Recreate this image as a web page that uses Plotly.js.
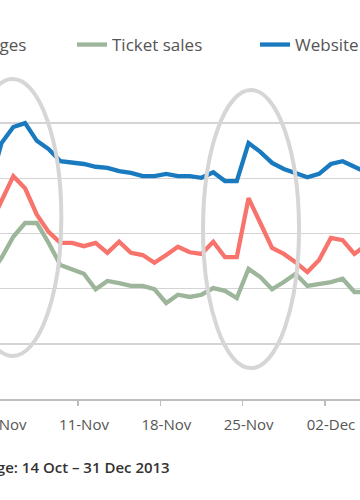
<!DOCTYPE html>
<html>
<head>
<meta charset="utf-8">
<script src="https://cdn.plot.ly/plotly-3.0.1.min.js"></script>
<style>
html,body{margin:0;padding:0;background:#fff;overflow:hidden;width:360px;height:500px;}
#chart{position:absolute;left:-270px;top:0;width:900px;height:500px;}
</style>
</head>
<body>
<div id="chart"></div>
<script>
// Daily values, 03 Nov – 05 Dec 2013 (the part of the chart that is in view)
const dates = ['2013-11-03','2013-11-04','2013-11-05','2013-11-06','2013-11-07','2013-11-08','2013-11-09','2013-11-10',
  '2013-11-11','2013-11-12','2013-11-13','2013-11-14','2013-11-15','2013-11-16','2013-11-17',
  '2013-11-18','2013-11-19','2013-11-20','2013-11-21','2013-11-22','2013-11-23','2013-11-24',
  '2013-11-25','2013-11-26','2013-11-27','2013-11-28','2013-11-29','2013-11-30','2013-12-01',
  '2013-12-02','2013-12-03','2013-12-04','2013-12-05'];
const ticketPages = [315,361,404,382,334,303,283,283,277,283,265,285,265,261,247,261,276,266,263,285,257,257,364,319,274,263,248,230,252,292,288,263,279];
const ticketSales = [225,256,294,319,319,283,243,234,227,199,214,210,205,205,199,174,189,185,189,201,196,183,236,221,199,212,227,205,208,212,218,194,194];
const websiteVisits = [388,464,493,500,468,453,431,428,426,421,419,413,410,404,404,408,404,404,401,411,395,395,464,448,428,417,410,402,408,426,431,421,411];
const seriesNames = ['Ticket pages','Ticket sales','Website visits'];
const seriesColors = ['#f7736b','#9db69b','#1a7abf'];
const footerText = 'Date range: 14 Oct – 31 Dec 2013';

const xs = dates.map(d => d + ' 12:00');
const values = [ticketPages, ticketSales, websiteVisits];
const traces = values.map((v, i) => ({
  type: 'scatter', mode: 'lines', x: xs, y: v, name: seriesNames[i],
  line: {color: seriesColors[i], width: 4.3}, hoverinfo: 'skip'
}));

// plot area: 440 px wide, starting 40 px left of the visible window
const PW = 440, OFF = 40;
const layout = {
  width: 900, height: 500,
  margin: {l: 230, r: 230, t: 68, b: 101, autoexpand: false},
  paper_bgcolor: '#fff', plot_bgcolor: '#fff',
  font: {family: 'Open Sans, sans-serif', color: '#555'},
  showlegend: true,
  legend: {
    orientation: 'h', x: (-111 + OFF)/PW, xanchor: 'left', y: 1.0695, yanchor: 'middle',
    font: {size: 17, color: '#555'}, entrywidth: 138, entrywidthmode: 'pixels',
    bgcolor: 'rgba(0,0,0,0)', itemclick: false
  },
  xaxis: {
    type: 'date', range: ['2013-10-31 23:14', '2013-12-08 09:02'],
    tickmode: 'linear', tick0: '2013-11-04', dtick: 7*86400000, tickformat: '%d-%b',
    ticks: 'outside', ticklen: 5, tickwidth: 1.5, tickcolor: '#bdbdbd',
    showline: true, linecolor: '#bdbdbd', linewidth: 1.5,
    showgrid: false, zeroline: false, ticklabelshift: 6, ticklabelstandoff: 6,
    tickfont: {size: 15, color: '#555'}
  },
  yaxis: {
    range: [0, 600], tickmode: 'linear', tick0: 0, dtick: 100,
    showticklabels: false, showgrid: true, gridcolor: '#d4d4d4', gridwidth: 1.5,
    zeroline: false, showline: false, ticks: ''
  },
  shapes: [
    {type: 'circle', xref: 'x', yref: 'y', x0: '2013-11-01 07:26', x1: '2013-11-09 14:00', y0: 78, y1: 580,
     line: {color: '#d6d6d6', width: 4}, layer: 'above'},
    {type: 'circle', xref: 'x', yref: 'y', x0: '2013-11-21 15:05', x1: '2013-11-29 19:00', y0: 56, y1: 560,
     line: {color: '#d6d6d6', width: 4}, layer: 'above'}
  ],
  annotations: [
    {text: footerText, xref: 'paper', yref: 'paper', x: (172 + OFF)/PW, y: -0.2054, xanchor: 'right', yanchor: 'middle',
     showarrow: false, font: {size: 15, color: '#333', family: 'Open Sans, sans-serif', weight: 600}}
  ]
};

Plotly.newPlot('chart', traces, layout, {displayModeBar: false, staticPlot: true});
</script>
</body>
</html>
